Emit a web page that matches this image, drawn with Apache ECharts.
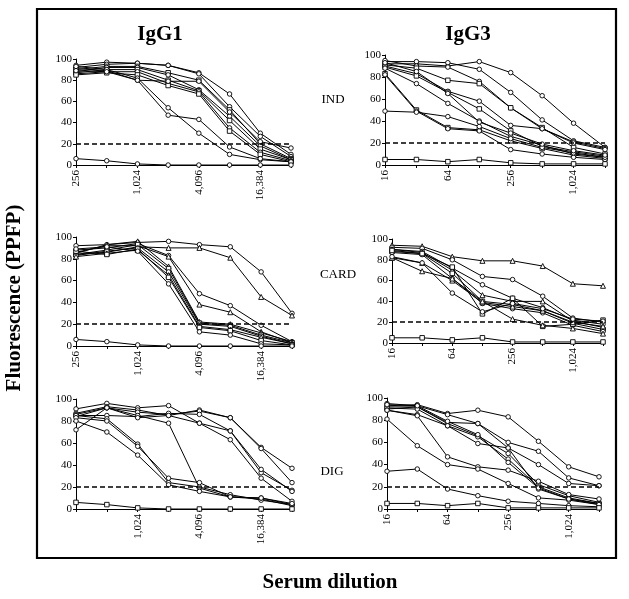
<!DOCTYPE html>
<html>
<head>
<meta charset="utf-8">
<script src="https://cdn.jsdelivr.net/npm/echarts@6/dist/echarts.min.js"></script>
<style>html,body{margin:0;padding:0;background:#fff}#c{width:629px;height:599px}</style>
</head>
<body>
<div id="c"></div>
<script>
// ---- tick labels (dilutions) ----
var igg1Dilutions = ['256','512','1,024','2,048','4,096','8,192','16,384','32,768'];
var igg3Dilutions = ['16','32','64','128','256','512','1,024','2,048'];
var igg1ShownTop = [0,2,4,6];
var igg1ShownDig = [2,4,6];
var igg3Shown = [0,2,4,6];
var yTicks = [0,20,40,60,80,100];
var cutoff = 20;

// ---- data: each row is one serum ----
var indIgG1 = [
  [94,97,96,94,87,67,30,10],
  [92,95,96,94,86,55,27,8],
  [90,93,93,87,80,52,20,6],
  [88,92,92,85,71,46,18,5],
  [87,90,90,80,70,42,15,5],
  [86,88,88,77,69,35,12,4],
  [85,87,85,75,67,32,10,3],
  [91,89,80,79,79,50,22,16],
  [93,90,82,54,30,10,5,3],
  [89,88,80,47,43,17,6,3],
  [6,4,1,0,0,0,0,0]
];
var indIgG1Symbols = ['circle','circle','rect','circle','rect','circle','rect','circle','circle','circle','circle'];

var indIgG3 = [
  [92,92,90,94,84,63,38,16],
  [94,94,93,87,66,41,22,16],
  [95,90,89,76,52,33,21,15],
  [91,88,77,74,52,34,16,10],
  [90,83,67,58,36,33,20,14],
  [89,81,66,51,31,17,12,8],
  [88,74,56,40,26,18,10,7],
  [83,50,34,32,22,15,9,6],
  [82,49,33,31,14,10,7,5],
  [49,48,44,35,24,16,11,7],
  [93,85,65,39,29,19,13,9],
  [5,5,3,5,2,1,1,1]
];
var indIgG3Symbols = ['circle','circle','circle','rect','circle','rect','circle','rect','circle','circle','circle','rect'];

var cardIgG1 = [
  [92,93,95,96,93,91,68,30],
  [84,86,91,90,90,81,45,28],
  [88,90,94,83,48,37,19,4],
  [86,92,92,82,38,31,13,3],
  [85,93,96,73,22,20,12,4],
  [84,88,93,71,21,19,10,3],
  [83,87,90,68,20,18,9,2],
  [82,85,88,65,18,15,8,2],
  [87,84,89,63,17,14,5,1],
  [89,91,87,57,13,10,2,1],
  [6,4,1,0,0,0,0,0]
];
var cardIgG1Symbols = ['circle','triangle','circle','triangle','triangle','rect','circle','triangle','rect','circle','circle'];

var cardIgG3 = [
  [94,93,83,79,79,74,57,55],
  [92,91,80,64,61,45,24,20],
  [90,88,72,56,43,34,22,18],
  [90,87,70,46,40,40,21,15],
  [88,86,67,40,37,31,19,13],
  [87,85,62,38,33,29,17,11],
  [89,86,73,28,43,16,18,22],
  [82,77,60,39,35,31,20,16],
  [82,69,62,40,23,17,14,9],
  [83,77,48,30,38,33,23,21],
  [5,5,3,5,1,1,1,1]
];
var cardIgG3Symbols = ['triangle','circle','circle','triangle','rect','circle','rect','triangle','triangle','circle','rect'];

var digIgG1 = [
  [91,96,92,94,78,71,33,17],
  [87,93,90,85,90,83,56,37],
  [86,92,88,86,89,83,55,24],
  [85,85,84,87,86,71,36,16],
  [84,92,85,78,19,11,9,3],
  [72,92,83,85,78,63,28,7],
  [85,82,59,24,20,13,8,4],
  [83,80,57,28,24,11,10,4],
  [80,70,49,22,16,11,10,5],
  [6,4,1,0,0,0,0,0]
];
var digIgG1Symbols = ['circle','circle','circle','circle','circle','circle','circle','circle','circle','rect'];

var digIgG3 = [
  [93,94,86,89,83,61,38,29],
  [95,93,85,77,60,52,28,21],
  [92,92,78,77,55,40,23,21],
  [90,92,77,66,50,22,12,6],
  [91,90,75,65,45,20,10,5],
  [89,85,75,59,55,18,9,5],
  [89,84,47,38,35,25,13,9],
  [81,57,40,36,23,10,8,4],
  [34,36,18,12,7,5,3,2],
  [94,93,79,67,42,19,9,4],
  [5,5,3,5,1,1,1,1]
];
var digIgG3Symbols = ['circle','circle','circle','circle','circle','circle','circle','circle','circle','circle','rect'];

// ---- layout (pixels) ----
var panels = [
  {grid:{left:76, top:59, width:215, height:106}, cats:igg1Dilutions, shown:igg1ShownTop, rows:indIgG1, sym:indIgG1Symbols},
  {grid:{left:385, top:55, width:220, height:110}, cats:igg3Dilutions, shown:igg3Shown, rows:indIgG3, sym:indIgG3Symbols},
  {grid:{left:76, top:237, width:216, height:109}, cats:igg1Dilutions, shown:igg1ShownTop, rows:cardIgG1, sym:cardIgG1Symbols},
  {grid:{left:392, top:239, width:211, height:104}, cats:igg3Dilutions, shown:igg3Shown, rows:cardIgG3, sym:cardIgG3Symbols},
  {grid:{left:76, top:399, width:216, height:110}, cats:igg1Dilutions, shown:igg1ShownDig, rows:digIgG1, sym:digIgG1Symbols},
  {grid:{left:387, top:398, width:212, height:111}, cats:igg3Dilutions, shown:igg3Shown, rows:digIgG3, sym:digIgG3Symbols}
];

var FONT = '"Liberation Serif", "DejaVu Serif", serif';
var grids = [], xAxes = [], yAxes = [], series = [];
panels.forEach(function(p, gi){
  grids.push(p.grid);
  var shown = p.shown;
  xAxes.push({
    type:'category', gridIndex:gi, data:p.cats, boundaryGap:false,
    axisLine:{lineStyle:{color:'#000', width:1}},
    axisTick:{show:true, length:3, interval:0, lineStyle:{color:'#000'}},
    axisLabel:{rotate:90, fontFamily:FONT, fontSize:11, color:'#000', margin:5,
      interval:function(i){ return shown.indexOf(i) >= 0; }},
    splitLine:{show:false}
  });
  yAxes.push({
    type:'value', gridIndex:gi, min:yTicks[0], max:yTicks[yTicks.length-1], interval:20,
    axisLine:{show:true, lineStyle:{color:'#000', width:1}},
    axisTick:{show:true, length:3, lineStyle:{color:'#000'}},
    axisLabel:{fontFamily:FONT, fontSize:11, color:'#000', margin:4},
    splitLine:{show:false}
  });
  p.rows.forEach(function(row, si){
    var s = {
      type:'line', xAxisIndex:gi, yAxisIndex:gi, data:row,
      symbol:p.sym[si], symbolSize: p.sym[si]==='triangle' ? 5 : 4.5,
      showSymbol:true,
      lineStyle:{color:'#000', width:1},
      itemStyle:{color:'#fff', borderColor:'#000', borderWidth:0.9},
      silent:true, animation:false, z:3
    };
    if (si === 0) {
      s.markLine = {
        silent:true, symbol:['none','none'], label:{show:false},
        lineStyle:{color:'#000', type:[5,3], width:1.5},
        data:[{yAxis:cutoff}]
      };
    }
    series.push(s);
  });
});

var chart = echarts.init(document.getElementById('c'), null, {renderer:'canvas'});
chart.setOption({
  backgroundColor:'#fff',
  animation:false,
  grid:grids, xAxis:xAxes, yAxis:yAxes, series:series,
  graphic:[
    {type:'rect', shape:{x:37, y:9, width:579, height:549}, style:{fill:'none', stroke:'#000', lineWidth:2.2}, z:10},
    {type:'text', x:160, y:35, style:{text:'IgG1', font:'bold 21px ' + FONT, fill:'#000', textAlign:'center', textVerticalAlign:'middle'}},
    {type:'text', x:468, y:35, style:{text:'IgG3', font:'bold 21px ' + FONT, fill:'#000', textAlign:'center', textVerticalAlign:'middle'}},
    {type:'text', x:333, y:100, style:{text:'IND', font:'13px ' + FONT, fill:'#000', textAlign:'center', textVerticalAlign:'middle'}},
    {type:'text', x:338, y:275, style:{text:'CARD', font:'13px ' + FONT, fill:'#000', textAlign:'center', textVerticalAlign:'middle'}},
    {type:'text', x:332, y:472, style:{text:'DIG', font:'13px ' + FONT, fill:'#000', textAlign:'center', textVerticalAlign:'middle'}},
    {type:'text', x:15, y:298, rotation:Math.PI/2, style:{text:'Fluorescence (PPFP)', font:'bold 21px ' + FONT, fill:'#000', textAlign:'center', textVerticalAlign:'middle'}},
    {type:'text', x:330, y:583, style:{text:'Serum dilution', font:'bold 21px ' + FONT, fill:'#000', textAlign:'center', textVerticalAlign:'middle'}}
  ]
});
</script>
</body>
</html>
